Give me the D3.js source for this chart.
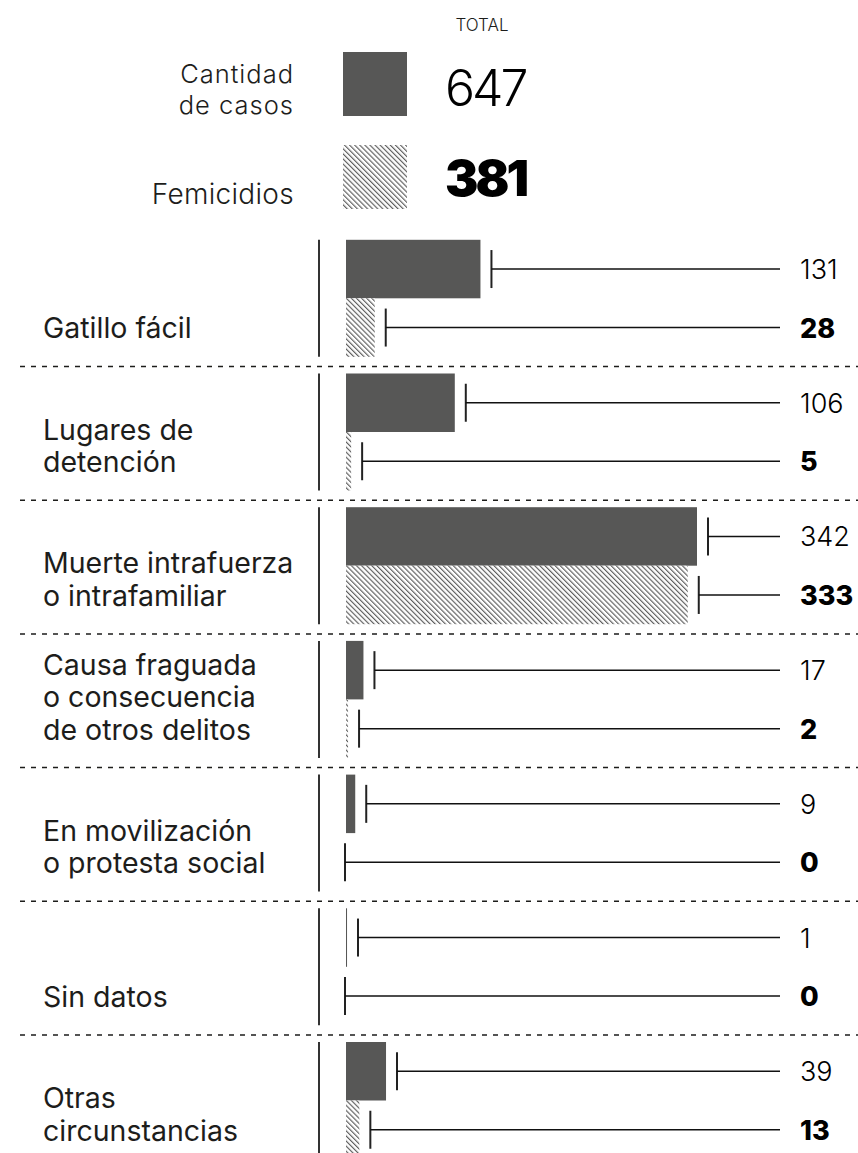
<!DOCTYPE html>
<html><head><meta charset="utf-8">
<script src="https://cdn.jsdelivr.net/npm/d3@7/dist/d3.min.js"></script>
<style>
html,body{margin:0;padding:0;background:#fff;}
svg{display:block;font-family:Inter,"Noto Sans",sans-serif;}
</style></head>
<body><svg id="c" width="858" height="1153"></svg>
<script>
const categories = ["Gatillo fácil","Lugares de detención","Muerte intrafuerza o intrafamiliar","Causa fraguada o consecuencia de otros delitos","En movilización o protesta social","Sin datos","Otras circunstancias"];
const labelLines = [["Gatillo fácil"],["Lugares de","detención"],["Muerte intrafuerza","o intrafamiliar"],["Causa fraguada","o consecuencia","de otros delitos"],["En movilización","o protesta social"],["Sin datos"],["Otras","circunstancias"]];
const casos = [131,106,342,17,9,1,39];
const femicidios = [28,5,333,2,0,0,13];
const series = ["casos","femicidios"];
const legendLabels = [["Cantidad","de casos"],["Femicidios"]];
const totals = [647,381];
const totalTitle = "TOTAL";

const svg = d3.select("#c");
const dark = "#575756", ink = "#1d1d1b";

const defs = svg.append("defs");
const pat = defs.append("pattern").attr("id","hatch").attr("patternUnits","userSpaceOnUse")
  .attr("width",3.6).attr("height",3.6).attr("patternTransform","rotate(-45)");
pat.append("rect").attr("width",3.6).attr("height",3.6).attr("fill","#fff");
pat.append("line").attr("x1",0.6).attr("y1",0).attr("x2",0.6).attr("y2",3.6)
  .attr("stroke","#555").attr("stroke-width",1.1);
const fills = {casos: dark, femicidios: "url(#hatch)"};

const x = d3.scaleLinear().domain([0,342]).range([346,697]);
const rowStep = 133.7, top0 = 232.8;
const y = d3.scaleBand().domain(categories).range([top0, top0 + rowStep*categories.length]).paddingInner(0).paddingOuter(0);
const yi = d3.scaleBand().domain(series).range([7,124]);

// Legend
svg.append("text").attr("x",482).attr("y",31).attr("text-anchor","middle")
  .attr("font-size",17).attr("font-weight",300).attr("fill",ink).text(totalTitle);
const legY = [52,145];
series.forEach((s,i)=>{
  svg.append("rect").attr("x",343).attr("y",legY[i]).attr("width",64).attr("height",64).attr("fill",fills[s]);
  const lines = legendLabels[i];
  const t = svg.append("text").attr("text-anchor","end")
    .attr("font-size",i===0?25.5:28).attr("letter-spacing",i===0?1:0.3)
    .attr("font-weight",300).attr("fill",ink);
  const firstBase = i===0 ? 83 : 204;
  lines.forEach((l,j)=>{
    t.append("tspan").attr("x",294).attr("y",firstBase + j*31).text(l);
  });
  svg.append("text").attr("x",445).attr("y",i===0?106:196)
    .attr("font-size",50).attr("font-weight",i===0?300:900).attr("letter-spacing",-3)
    .attr("fill","#000").text(totals[i]);
});

// Rows
const rows = categories.map((c,i)=>({cat:c, lines:labelLines[i], vals:{casos:casos[i], femicidios:femicidios[i]}}));
const g = svg.append("g");
const row = g.selectAll("g.row").data(rows).join("g").attr("class","row")
  .attr("transform",d=>`translate(0,${y(d.cat)})`);

row.append("line").attr("x1",319).attr("x2",319).attr("y1",7).attr("y2",124)
  .attr("stroke","#333").attr("stroke-width",2);

row.each(function(d){
  const r = d3.select(this);
  const n = d.lines.length;
  const lastBase = rowStep - 28;
  const t = r.append("text").attr("font-size",28.5).attr("fill",ink);
  d.lines.forEach((l,j)=>{
    t.append("tspan").attr("x",43).attr("y",lastBase - (n-1-j)*32.5).text(l);
  });
  series.forEach(s=>{
    const v = d.vals[s];
    const yy = yi(s), h = yi.bandwidth(), cy = yy + h/2;
    r.append("rect").attr("x",x(0)).attr("y",yy).attr("width",x(v)-x(0)).attr("height",h)
      .attr("fill",fills[s]);
    const tx = v>0 ? x(v)+11 : x(0)-1;
    r.append("line").attr("x1",tx).attr("x2",tx).attr("y1",cy-19).attr("y2",cy+19)
      .attr("stroke","#222").attr("stroke-width",2);
    r.append("line").attr("x1",tx).attr("x2",780).attr("y1",cy).attr("y2",cy)
      .attr("stroke","#111").attr("stroke-width",1.5);
    r.append("text").attr("x",800).attr("y",cy+10).attr("font-size",27)
      .attr("font-weight",s==="casos"?300:800).attr("fill","#000").text(v);
  });
});

// Separators
g.selectAll("line.sep").data(categories.slice(1)).join("line").attr("class","sep")
  .attr("x1",20).attr("x2",858).attr("y1",d=>y(d)).attr("y2",d=>y(d))
  .attr("stroke",ink).attr("stroke-width",1.5).attr("stroke-dasharray","5,6");
</script></body></html>
